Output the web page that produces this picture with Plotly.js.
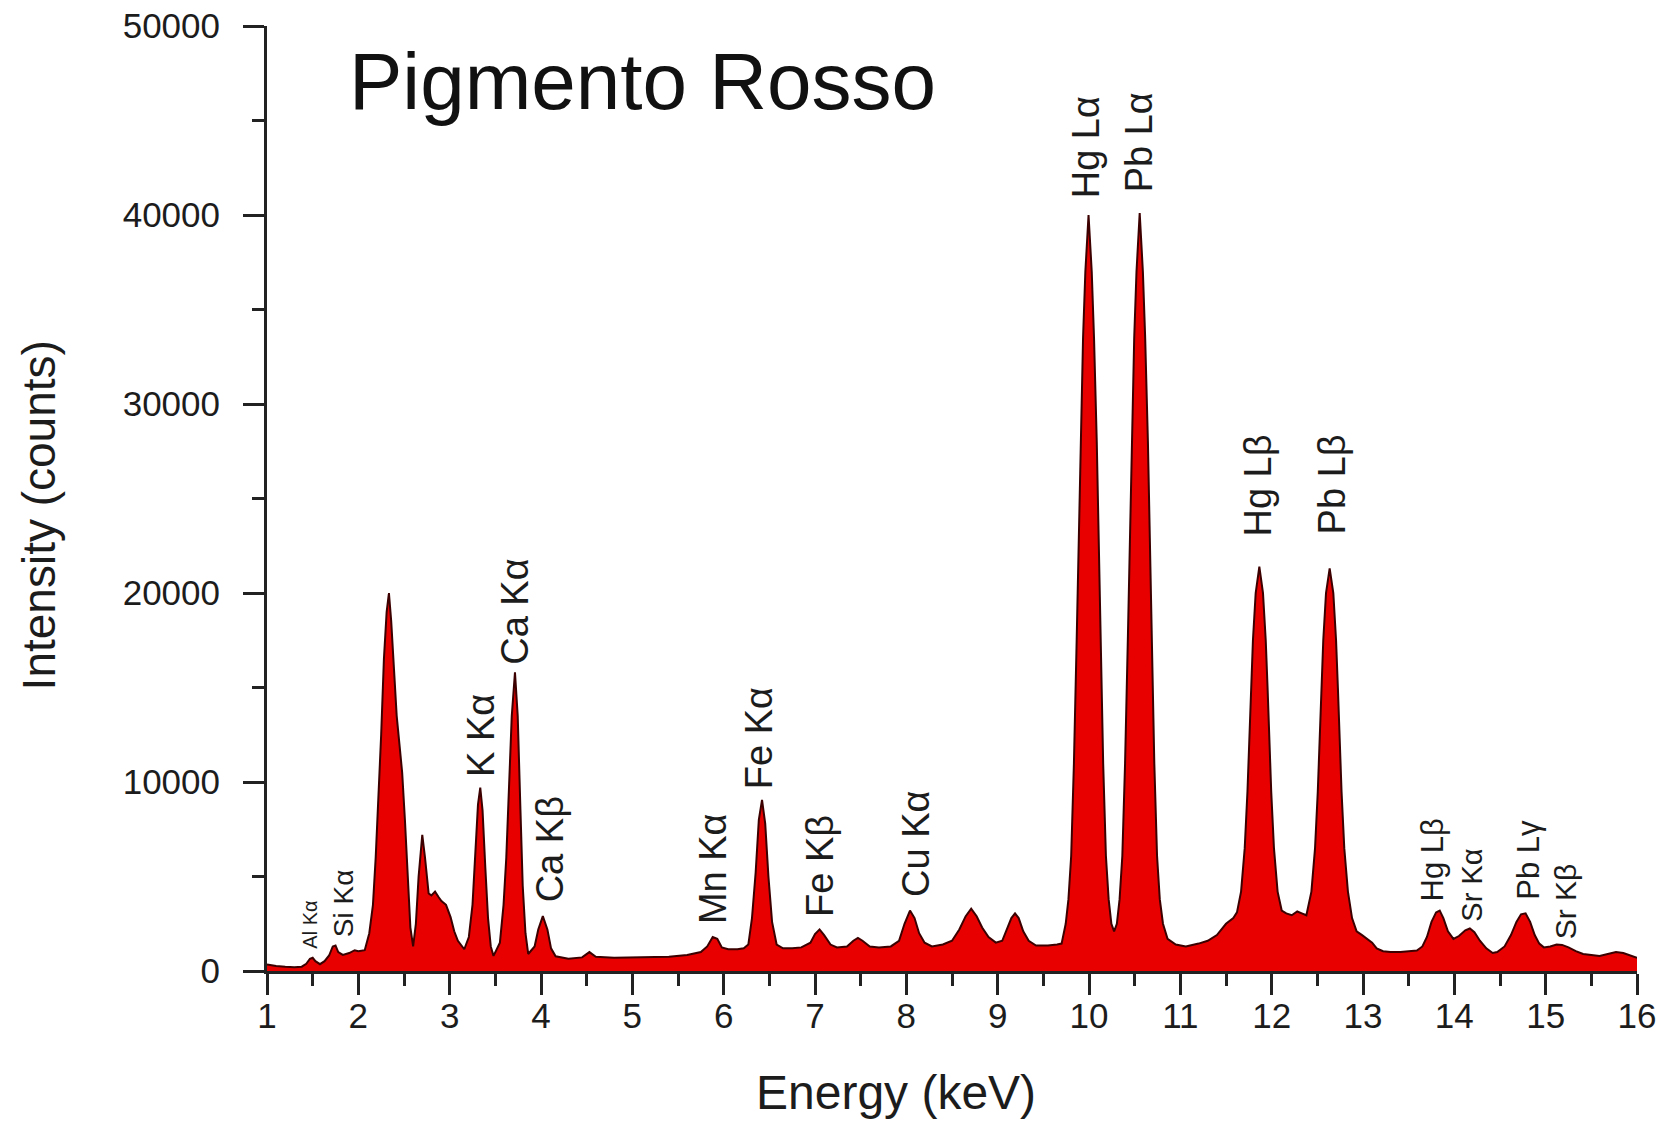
<!DOCTYPE html>
<html>
<head>
<meta charset="utf-8">
<script src="https://cdn.plot.ly/plotly-3.0.1.min.js"></script>
<style>
  html, body { margin: 0; padding: 0; background: #ffffff; }
  #chart { width: 1675px; height: 1121px; }
</style>
</head>
<body>
<div id="chart"></div>
<script>
// XRF spectrum of the red pigment: energy (keV) and intensity (counts)
const energy = [
  1.00, 1.10, 1.20, 1.30, 1.38, 1.43, 1.47, 1.50, 1.53, 1.58, 1.63, 1.68, 1.72, 1.75, 1.78, 1.83, 1.90, 1.96, 2.00,
  2.07, 2.12, 2.16, 2.19, 2.22, 2.25, 2.28, 2.31, 2.335, 2.36, 2.39, 2.42, 2.45, 2.48, 2.51, 2.54, 2.57, 2.60,
  2.63, 2.66, 2.70, 2.73, 2.77, 2.80, 2.84, 2.88, 2.91, 2.96, 3.01, 3.05, 3.09, 3.16,
  3.21, 3.25, 3.28, 3.31, 3.335, 3.36, 3.39, 3.42, 3.45, 3.48,
  3.55, 3.59, 3.62, 3.65, 3.68, 3.715, 3.745, 3.775, 3.80, 3.83, 3.86,
  3.93, 3.97, 4.02, 4.07, 4.11, 4.16, 4.30, 4.45, 4.53, 4.60, 4.80, 5.00, 5.20, 5.40, 5.60,
  5.75, 5.82, 5.88, 5.93, 5.98, 6.05, 6.15, 6.22,
  6.27, 6.31, 6.35, 6.385, 6.42, 6.455, 6.49, 6.53, 6.58, 6.65, 6.75, 6.85,
  6.95, 7.00, 7.05, 7.10, 7.17, 7.24, 7.35, 7.42, 7.47, 7.52, 7.60, 7.70, 7.83,
  7.92, 7.98, 8.04, 8.09, 8.14, 8.20, 8.28, 8.40, 8.50, 8.58, 8.65, 8.71, 8.77, 8.83, 8.90, 8.98,
  9.05, 9.10, 9.15, 9.19, 9.23, 9.28, 9.34, 9.42, 9.55, 9.65,
  9.70, 9.745, 9.775, 9.805, 9.835, 9.865, 9.885, 9.905, 9.935, 9.96, 9.995,
  10.03, 10.055, 10.085, 10.105, 10.125, 10.155, 10.185, 10.215, 10.245, 10.275,
  10.305, 10.335, 10.365, 10.395, 10.425, 10.445, 10.465, 10.495, 10.52, 10.555,
  10.59, 10.615, 10.645, 10.665, 10.685, 10.715, 10.745, 10.775, 10.81, 10.86,
  10.95, 11.06, 11.20, 11.30, 11.40, 11.50, 11.58, 11.62,
  11.665, 11.705, 11.735, 11.755, 11.775, 11.795, 11.825, 11.865, 11.905, 11.935, 11.955, 11.975, 11.995, 12.025, 12.065, 12.11,
  12.16, 12.22, 12.28, 12.33, 12.38,
  12.435, 12.475, 12.505, 12.525, 12.545, 12.565, 12.595, 12.635, 12.675, 12.705, 12.725, 12.745, 12.765, 12.795, 12.835, 12.88,
  12.93, 12.99, 13.05, 13.10, 13.15, 13.22, 13.30, 13.41, 13.50, 13.59,
  13.65, 13.70, 13.75, 13.80, 13.84, 13.88, 13.93, 13.99, 14.05, 14.12, 14.17, 14.22, 14.28, 14.35, 14.42, 14.47,
  14.55, 14.62, 14.68, 14.73, 14.78, 14.83, 14.88, 14.93, 14.98, 15.05, 15.12, 15.18, 15.25, 15.33, 15.41,
  15.50, 15.59, 15.68, 15.77, 15.85, 15.92, 16.00
];
const counts = [
  350, 260, 220, 200, 230, 380, 650, 700, 520, 360, 520, 820, 1300, 1350, 1000, 850, 950, 1100, 1050,
  1100, 2000, 3500, 6000, 9000, 12500, 16500, 19000, 20000, 18500, 16000, 13500, 12000, 10500, 8000, 5000, 2300, 1300,
  2500, 5000, 7200, 6000, 4100, 4000, 4200, 3900, 3700, 3500, 2850, 2100, 1600, 1150,
  1800, 3500, 6500, 8800, 9700, 8500, 5500, 2800, 1300, 800,
  1500, 3500, 6000, 9500, 13500, 15800, 13500, 8500, 4500, 2000, 900,
  1300, 2200, 2900, 2200, 1200, 780, 650, 720, 1000, 750, 700, 720, 720, 760, 850,
  1000, 1300, 1800, 1700, 1250, 1150, 1150, 1200,
  1400, 2800, 5200, 8000, 9050, 7800, 5000, 2600, 1400, 1200, 1200, 1250,
  1500, 1950, 2200, 1900, 1400, 1250, 1300, 1600, 1750, 1600, 1300, 1250, 1300,
  1600, 2500, 3200, 2800, 2000, 1500, 1300, 1400, 1600, 2200, 2900, 3300, 2900, 2300, 1800, 1500,
  1600, 2200, 2800, 3050, 2800, 2100, 1600, 1350, 1350, 1400,
  1450, 2500, 3800, 6100, 11000, 17500, 22500, 28000, 33500, 37000, 40000,
  37000, 33500, 28000, 22500, 17500, 11000, 6100, 3800, 2500, 2100,
  2500, 3800, 6100, 11000, 17500, 22500, 28000, 33500, 37000, 40100,
  37000, 33500, 28000, 22500, 17500, 11000, 6100, 3800, 2500, 1700,
  1400, 1300, 1450, 1600, 1900, 2500, 2800, 3100,
  4200, 6500, 9500, 12000, 15000, 17500, 20000, 21400, 20000, 17500, 15000, 12000, 9500, 6500, 4200, 3200,
  3050, 2950, 3150, 3050, 2950,
  4200, 6500, 9500, 12000, 15000, 17500, 20000, 21300, 20000, 17500, 15000, 12000, 9500, 6500, 4200, 2800,
  2100, 1900, 1700, 1500, 1200, 1050, 1000, 1000, 1050, 1080,
  1300, 1800, 2600, 3100, 3200, 2800, 2100, 1700, 1850, 2150, 2250, 2050, 1600, 1200, 950, 1000,
  1300, 1900, 2600, 3000, 3050, 2600, 1900, 1450, 1250, 1300, 1400, 1380, 1250, 1050, 900,
  850, 800, 900, 1000, 950, 820, 700
];

// Emission-line labels and the energy each label is centred on
const lineNames = [
  'Al Kα', 'Si Kα', 'K Kα', 'Ca Kα', 'Ca Kβ', 'Mn Kα', 'Fe Kα', 'Fe Kβ', 'Cu Kα',
  'Hg Lα', 'Pb Lα', 'Hg Lβ', 'Pb Lβ', 'Hg Lβ', 'Sr Kα', 'Pb Lγ', 'Sr Kβ'
];
const lineEnergies = [
  1.47, 1.84, 3.34, 3.72, 4.10, 5.89, 6.39, 7.06, 8.10,
  9.97, 10.55, 11.85, 12.66, 13.76, 14.19, 14.81, 15.22
];

// Axis tick values
const xTicks = [1, 2, 3, 4, 5, 6, 7, 8, 9, 10, 11, 12, 13, 14, 15, 16];
const yTicks = [0, 10000, 20000, 30000, 40000, 50000];

// Label styling: font size and gap (px) above the peak
const labelSizes = [20, 28, 38, 38, 38, 38, 38, 38, 38, 38, 38, 38, 38, 31, 29, 31, 30];
const labelGaps  = [8, 7, 10, 7, 13, 12, 10, 12, 13, 16, 20, 29, 33, 8, 6, 13, 4];

const FONT = 'Liberation Sans, Arial, Helvetica, sans-serif';
const INK = '#1c1c1c';

// Highest count of the spectrum near a given energy
function peakNear(e, half) {
  let best = 0;
  for (let i = 0; i < energy.length; i++) {
    if (Math.abs(energy[i] - e) <= half && counts[i] > best) best = counts[i];
  }
  return best;
}

const lineAnnotations = lineNames.map((name, i) => ({
  text: name,
  x: lineEnergies[i],
  y: peakNear(lineEnergies[i], 0.12),
  xref: 'x', yref: 'y',
  xanchor: 'center', yanchor: 'bottom',
  textangle: -90,
  yshift: labelGaps[i],
  showarrow: false,
  borderpad: 0,
  font: { family: FONT, size: labelSizes[i], color: INK }
}));

const spectrum = {
  type: 'scatter',
  mode: 'lines',
  x: energy,
  y: counts,
  fill: 'tozeroy',
  fillcolor: 'rgb(232,0,0)',
  line: { color: 'rgb(60,0,0)', width: 2, shape: 'linear' },
  hoverinfo: 'skip'
};

const axisCommon = {
  ticks: 'outside',
  ticklen: 21,
  tickwidth: 3,
  tickcolor: '#222',
  showline: true,
  linewidth: 3,
  linecolor: '#222',
  showgrid: false,
  zeroline: false,
  tickfont: { family: FONT, size: 35, color: INK }
};

const layout = {
  width: 1675,
  height: 1121,
  margin: { l: 267, r: 38, t: 26, b: 150, pad: 0 },
  paper_bgcolor: '#ffffff',
  plot_bgcolor: '#ffffff',
  showlegend: false,
  font: { family: FONT, color: INK },
  title: {
    text: 'Pigmento Rosso',
    font: { family: FONT, size: 80, color: '#111111' },
    xref: 'container', x: 349 / 1675, xanchor: 'left',
    yref: 'container', y: 1 - 53 / 1121, yanchor: 'top',
    pad: { t: 0, b: 0, l: 0, r: 0 }
  },
  xaxis: Object.assign({}, axisCommon, {
    range: [1, 16],
    tickmode: 'array',
    tickvals: xTicks,
    ticktext: xTicks.map(String),
    ticklabelstandoff: -9,
    minor: { dtick: 0.5, tick0: 1, ticks: 'outside', ticklen: 12, tickwidth: 3, tickcolor: '#222', showgrid: false }
  }),
  yaxis: Object.assign({}, axisCommon, {
    range: [0, 50000],
    tickmode: 'array',
    tickvals: yTicks,
    ticktext: yTicks.map(String),
    ticklabelstandoff: 16,
    minor: { dtick: 5000, tick0: 0, ticks: 'outside', ticklen: 12, tickwidth: 3, tickcolor: '#222', showgrid: false }
  }),
  annotations: lineAnnotations.concat([
    {
      text: 'Energy (keV)',
      xref: 'paper', yref: 'paper',
      x: (896 - 267) / 1370, y: (970.7 - 1092) / 945.2,
      xanchor: 'center', yanchor: 'middle',
      showarrow: false,
      font: { family: FONT, size: 48, color: INK }
    },
    {
      text: 'Intensity (counts)',
      xref: 'paper', yref: 'paper',
      x: (39 - 267) / 1370, y: (970.7 - 515) / 945.2,
      xanchor: 'center', yanchor: 'middle',
      textangle: -90,
      showarrow: false,
      font: { family: FONT, size: 46, color: INK }
    }
  ])
};

Plotly.newPlot('chart', [spectrum], layout, { displayModeBar: false, staticPlot: true });
</script>
</body>
</html>
